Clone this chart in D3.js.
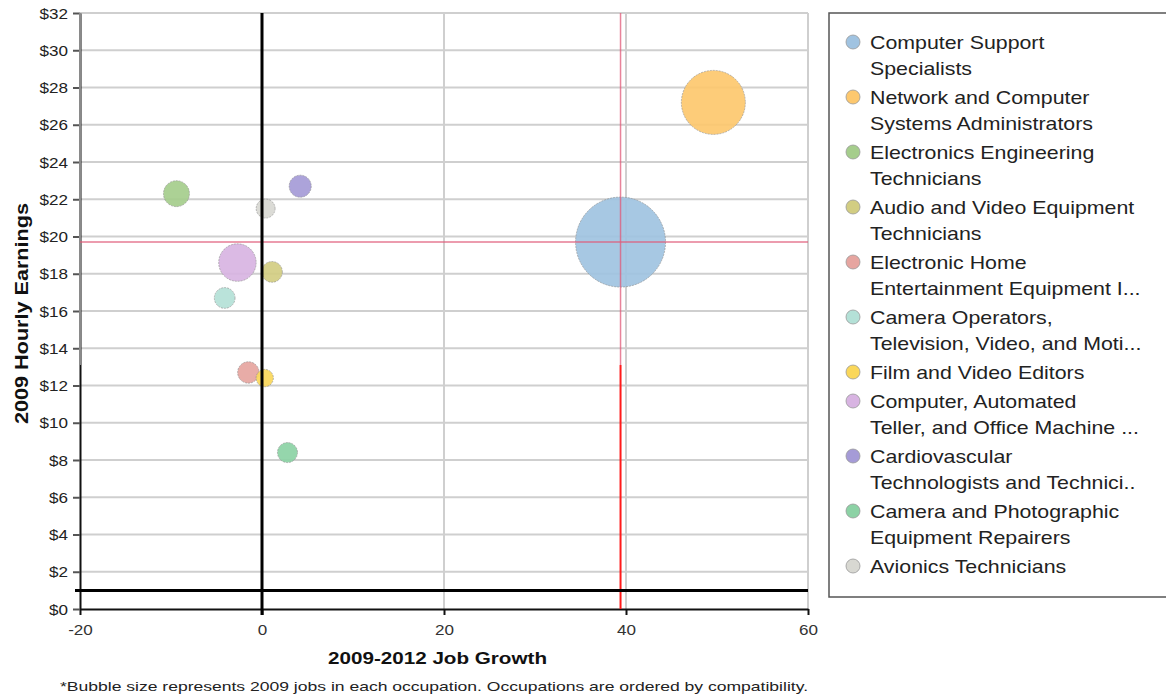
<!DOCTYPE html>
<html>
<head>
<meta charset="utf-8">
<script src="https://cdn.jsdelivr.net/npm/d3@7"></script>
<style>
  html, body { margin: 0; padding: 0; background: #fff; }
  svg { display: block; font-family: "Liberation Sans", Arial, sans-serif; }
</style>
</head>
<body>
<svg id="chart" width="1166" height="698"></svg>
<script>
// ---------------- data ----------------
const occupations = [
  "Computer Support Specialists",
  "Network and Computer Systems Administrators",
  "Electronics Engineering Technicians",
  "Audio and Video Equipment Technicians",
  "Electronic Home Entertainment Equipment Installers and Repairers",
  "Camera Operators, Television, Video, and Motion Picture",
  "Film and Video Editors",
  "Computer, Automated Teller, and Office Machine Repairers",
  "Cardiovascular Technologists and Technicians",
  "Camera and Photographic Equipment Repairers",
  "Avionics Technicians"
];
const legendLines = [
  ["Computer Support", "Specialists"],
  ["Network and Computer", "Systems Administrators"],
  ["Electronics Engineering", "Technicians"],
  ["Audio and Video Equipment", "Technicians"],
  ["Electronic Home", "Entertainment Equipment I..."],
  ["Camera Operators,", "Television, Video, and Moti..."],
  ["Film and Video Editors"],
  ["Computer, Automated", "Teller, and Office Machine ..."],
  ["Cardiovascular", "Technologists and Technici.."],
  ["Camera and Photographic", "Equipment Repairers"],
  ["Avionics Technicians"]
];
const jobGrowth      = [39.4, 49.6, -9.4, 1.1, -1.5, -4.1, 0.3, -2.7, 4.2, 2.8, 0.4];
const hourlyEarnings = [19.7, 27.2, 22.3, 18.1, 12.7, 16.7, 12.4, 18.6, 22.7, 8.4, 21.5];
const jobs2009       = [565000, 286000, 47000, 30000, 32000, 30000, 21000, 98000, 34000, 28000, 25000];
const colors = ["#a0c3e1", "#fdc86e", "#a5cd8c", "#d2cd82", "#e6a5a0", "#b4e1d7",
                "#fad75a", "#d8b4e2", "#a59bd7", "#8cd2a5", "#d8d8d2"];
const xTicks = [-20, 0, 20, 40, 60];
const yTicks = [0, 2, 4, 6, 8, 10, 12, 14, 16, 18, 20, 22, 24, 26, 28, 30, 32];
const baselineEarnings = 1;     // thick black horizontal reference line
const baselineGrowth = 0;       // thick black vertical reference line
const referenceIndex = 0;       // red cross-hair through this occupation
const fadeCut = 13.1;           // red line is faded above this value

const xTitle = "2009-2012 Job Growth";
const yTitle = "2009 Hourly Earnings";
const footnote = "*Bubble size represents 2009 jobs in each occupation. Occupations are ordered by compatibility.";

// ---------------- layout ----------------
const SX = 1.22; // horizontal stretch of text in the reference
const svg = d3.select("#chart");
const x = d3.scaleLinear().domain([-20, 60]).range([80, 808]);
const y = d3.scaleLinear().domain([0, 32]).range([609, 13]);
const r = d3.scaleSqrt().domain([0, d3.max(jobs2009)]).range([0, 45]);

const data = occupations.map((name, i) => ({
  name, i, growth: jobGrowth[i], earn: hourlyEarnings[i], jobs: jobs2009[i], color: colors[i]
}));

// gridlines
svg.append("g").selectAll("line").data(yTicks.filter(d => d > 0)).join("line")
  .attr("x1", x(-20)).attr("x2", x(60))
  .attr("y1", d => y(d)).attr("y2", d => y(d))
  .attr("stroke", "#cfcfcf").attr("stroke-width", 2);
svg.append("g").selectAll("line").data(xTicks.filter(d => d > 0)).join("line")
  .attr("x1", d => x(d)).attr("x2", d => x(d))
  .attr("y1", y(32)).attr("y2", y(0))
  .attr("stroke", "#cfcfcf").attr("stroke-width", 2);

// axes
const gx = svg.append("g").attr("transform", `translate(0,${y(0)})`)
  .call(d3.axisBottom(x).tickValues(xTicks).tickSize(6).tickSizeOuter(0).tickFormat(d => String(d)));
gx.select(".domain").attr("stroke", "#111").attr("stroke-width", 2);
gx.selectAll(".tick line").attr("stroke", "#111").attr("stroke-width", 2);
gx.selectAll(".tick text")
  .attr("y", 0).attr("dy", 0)
  .attr("transform", `translate(0,26) scale(${SX},1)`)
  .attr("font-size", 14).attr("fill", "#333")
  .attr("font-family", "Liberation Sans, Arial, sans-serif");

const gy = svg.append("g").attr("transform", `translate(${x(-20)},0)`)
  .call(d3.axisLeft(y).tickValues(yTicks).tickSize(7).tickSizeOuter(0).tickFormat(d => "$" + d));
gy.select(".domain").attr("stroke", "#111").attr("stroke-width", 2);
gy.selectAll(".tick line").attr("stroke", "#555").attr("stroke-width", 2);
gy.selectAll(".tick text")
  .attr("x", 0).attr("dy", "0.36em")
  .attr("transform", `translate(-12,0) scale(${SX},1)`)
  .attr("font-size", 14).attr("fill", "#222")
  .attr("font-family", "Liberation Sans, Arial, sans-serif");
// faded upper part of the y axis
svg.append("line")
  .attr("x1", x(-20)).attr("x2", x(-20)).attr("y1", y(32)).attr("y2", y(fadeCut))
  .attr("stroke", "#8a8a8a").attr("stroke-width", 2);

// bubbles (largest first)
svg.append("g").selectAll("circle")
  .data(data.slice().sort((a, b) => b.jobs - a.jobs)).join("circle")
  .attr("cx", d => x(d.growth)).attr("cy", d => y(d.earn)).attr("r", d => r(d.jobs))
  .attr("fill", d => d.color).attr("fill-opacity", 0.92)
  .attr("stroke", "#8d8d8d").attr("stroke-opacity", 0.6).attr("stroke-width", 1)
  .attr("stroke-dasharray", "2,1");

// reference lines
const ref = data[referenceIndex];
svg.append("line")
  .attr("x1", x(-20)).attr("x2", x(60)).attr("y1", y(ref.earn)).attr("y2", y(ref.earn))
  .attr("stroke", "#e05a78").attr("stroke-opacity", 0.8).attr("stroke-width", 1.5);
svg.append("line")
  .attr("x1", x(ref.growth)).attr("x2", x(ref.growth)).attr("y1", y(32)).attr("y2", y(fadeCut))
  .attr("stroke", "#e05a78").attr("stroke-opacity", 0.75).attr("stroke-width", 1.5);
svg.append("line")
  .attr("x1", x(ref.growth)).attr("x2", x(ref.growth)).attr("y1", y(fadeCut)).attr("y2", y(0))
  .attr("stroke", "#ff1a1a").attr("stroke-width", 2);

svg.append("line")
  .attr("x1", x(-20) - 5).attr("x2", x(60)).attr("y1", y(baselineEarnings)).attr("y2", y(baselineEarnings))
  .attr("stroke", "#000").attr("stroke-width", 3);
svg.append("line")
  .attr("x1", x(baselineGrowth)).attr("x2", x(baselineGrowth)).attr("y1", y(32)).attr("y2", y(0) + 6)
  .attr("stroke", "#000").attr("stroke-width", 3);

// axis titles
svg.append("text")
  .attr("x", 328).attr("y", 664)
  .attr("font-size", 17).attr("font-weight", "bold").attr("fill", "#111")
  .attr("textLength", 219).attr("lengthAdjust", "spacingAndGlyphs")
  .text(xTitle);
svg.append("text")
  .attr("transform", "translate(28,424) rotate(-90)")
  .attr("font-size", 19).attr("font-weight", "bold").attr("fill", "#111")
  .attr("textLength", 221).attr("lengthAdjust", "spacingAndGlyphs")
  .text(yTitle);
svg.append("text")
  .attr("x", 60).attr("y", 691)
  .attr("font-size", 13).attr("fill", "#222")
  .attr("textLength", 748).attr("lengthAdjust", "spacingAndGlyphs")
  .text(footnote);

// legend
svg.append("rect")
  .attr("x", 829).attr("y", 13).attr("width", 360).attr("height", 584)
  .attr("fill", "none").attr("stroke", "#555").attr("stroke-width", 1.5);
let cy = 42;
const lg = svg.append("g");
legendLines.forEach((lines, i) => {
  lg.append("circle").attr("cx", 853).attr("cy", cy).attr("r", 7)
    .attr("fill", colors[i]).attr("stroke", "#999").attr("stroke-width", 0.8);
  lines.forEach((ln, j) => {
    lg.append("text")
      .attr("transform", `translate(870,${cy + 7 + j * 26}) scale(${SX},1)`)
      .attr("font-size", 17.5).attr("fill", "#222")
      .text(ln);
  });
  cy += (lines.length - 1) * 26 + 29;
});
</script>
</body>
</html>
